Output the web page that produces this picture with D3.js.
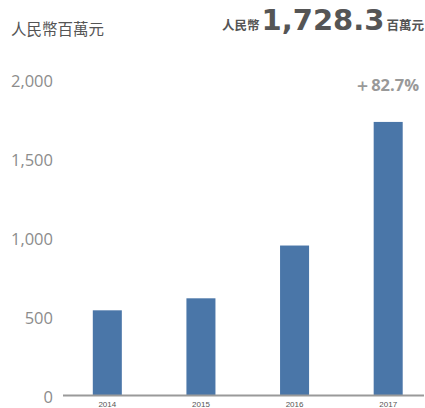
<!DOCTYPE html>
<html>
<head>
<meta charset="utf-8">
<script src="https://cdn.jsdelivr.net/npm/d3@7"></script>
<style>
  html, body { margin: 0; padding: 0; background: #fff; }
  svg { display: block; }
</style>
</head>
<body>
<svg id="chart" width="425" height="408"></svg>
<script>
// Revenue by year, RMB millions
const years = ["2014", "2015", "2016", "2017"];
const revenue = [536, 612, 946, 1728.3];
const yTicks = [0, 500, 1000, 1500, 2000];
const unitLabel = "人民幣百萬元";
const headlinePrefix = "人民幣";
const headlineValue = "1,728.3";
const headlineSuffix = "百萬元";
const growthLabel = "＋82.7%";

const svg = d3.select("#chart");
const cjk = "'Noto Sans CJK TC', 'Noto Sans CJK SC', sans-serif";

const x = d3.scaleBand()
  .domain(years)
  .range([60.5, 435])
  .paddingInner(0.69)
  .paddingOuter(0.345);

const y = d3.scaleLinear()
  .domain([0, 2000])
  .range([395, 79]);

// Bars
svg.append("g")
  .selectAll("rect")
  .data(years.map((yr, i) => ({ yr, v: revenue[i] })))
  .join("rect")
  .attr("x", d => x(d.yr))
  .attr("y", d => y(d.v))
  .attr("width", x.bandwidth())
  .attr("height", d => y(0) - y(d.v))
  .attr("fill", "#4a76a8");

// Baseline
svg.append("line")
  .attr("x1", 63).attr("x2", 424)
  .attr("y1", y(0) + 0.5).attr("y2", y(0) + 0.5)
  .attr("stroke", "#9a9a9a")
  .attr("stroke-width", 2);

// Y axis labels
const yAxis = svg.append("g")
  .attr("transform", "translate(53,0)")
  .call(d3.axisLeft(y).tickValues(yTicks).tickSize(0).tickPadding(0)
    .tickFormat(d3.format(",")));
yAxis.select(".domain").remove();
yAxis.selectAll("text")
  .attr("dy", "0.32em")
  .attr("transform", "translate(0,2.5)")
  .attr("fill", "#8c8c8c")
  .style("font-family", "'Open Sans', sans-serif")
  .style("font-size", "16.5px");

// X axis labels
const xAxis = svg.append("g")
  .attr("transform", `translate(0,${y(0)})`)
  .call(d3.axisBottom(x).tickSize(0).tickPadding(6));
xAxis.select(".domain").remove();
xAxis.selectAll("text")
  .attr("fill", "#555")
  .style("font-family", "'Liberation Sans', Arial, sans-serif")
  .style("font-size", "8px");

// Unit title
svg.append("text")
  .attr("x", 11).attr("y", 34.5)
  .attr("fill", "#555")
  .style("font-family", cjk)
  .style("font-size", "15.5px")
  .text(unitLabel);

// Headline figure
const head = svg.append("text")
  .attr("x", 424).attr("y", 30)
  .attr("text-anchor", "end")
  .attr("fill", "#555")
  .style("font-weight", "bold");
head.append("tspan")
  .style("font-family", cjk).style("font-size", "12.5px")
  .text(headlinePrefix);
head.append("tspan")
  .attr("dx", 2)
  .style("font-family", "'DejaVu Sans', sans-serif").style("font-size", "29px")
  .text(headlineValue);
head.append("tspan")
  .attr("dx", 2)
  .style("font-family", cjk).style("font-size", "12.5px")
  .text(headlineSuffix);

// Growth label
svg.append("text")
  .attr("x", 419).attr("y", 91)
  .attr("text-anchor", "end")
  .attr("fill", "#999")
  .style("font-family", "'Open Sans', sans-serif")
  .style("font-weight", "bold")
  .style("font-size", "16.5px")
  .text(growthLabel);
</script>
</body>
</html>
